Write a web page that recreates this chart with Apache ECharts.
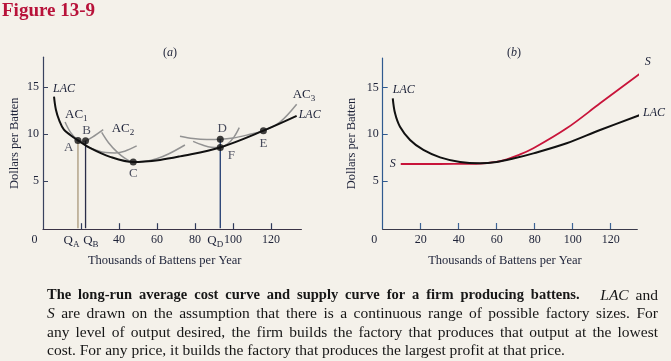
<!DOCTYPE html>
<html><head><meta charset="utf-8">
<script src="https://cdn.jsdelivr.net/npm/echarts@6/dist/echarts.min.js"></script>
<style>html,body{margin:0;padding:0;background:#f4f1ea;}#c{width:671px;height:361px;}</style>
</head><body><div id="c"></div>
<script>
// ---------- DATA ----------
// Panel (a): long-run average cost and short-run average cost curves (x: thousands of battens, y: dollars)
const lacA   = [[5.8,14.0],[6.8,12.6],[8.5,11.5],[11,10.5],[14.5,9.9],[18.4,9.35],[24.7,8.55],[35.3,7.6],[47.5,7.05],[61.6,7.27],[72.1,7.65],[93.2,8.6],[116,10.38],[133.5,11.95]];
const ac1A   = [[11.6,11.3],[14.5,10.2],[18.4,9.35],[20.4,9.22],[22.4,9.3],[26,9.7],[31.7,10.5]];
const acMidA = [[23,8.7],[28,8.3],[33,8.05],[38,8.02],[43,8.2],[49.3,8.76]];
const ac2A   = [[30.9,10.2],[34.5,9.1],[38.8,8.15],[43,7.45],[47.5,7.05],[53,7.1],[59.8,7.4],[66,7.9],[74.7,8.86]];
const acFA   = [[79,9.25],[84,8.85],[88.5,8.62],[93.3,8.6],[97,8.95],[100.5,9.7],[103.3,10.7]];
const ac3A   = [[72.1,9.8],[79,9.55],[86.2,9.45],[93.3,9.47],[100,9.6],[108,9.95],[116,10.38],[124.7,11.3],[133.5,13.2]];
const pointNames  = ['A','B','C','D','F','E'];
const pointCoords = [[18.4,9.35],[22.4,9.3],[47.5,7.05],[93.3,9.47],[93.3,8.6],[116,10.38]];
const qNames  = ['A','B','D'];          // vertical lines dropped from these points
// Panel (b): LAC and supply curve S
const lacB    = [[5.3,13.86],[6.5,12.25],[9.1,10.81],[14.4,9.39],[21.4,8.32],[30.2,7.53],[40.7,7.03],[51.2,6.89],[60,7.03],[68.7,7.4],[79.3,7.96],[96.8,9.04],[114.4,10.46],[135.4,12.07]];
const supplyB = [[9.5,6.82],[30,6.82],[45,6.83],[51.2,6.86],[61.7,7.12],[72.3,7.85],[79.3,8.5],[96.8,10.64],[114.4,13.32],[138.4,16.97]];
// Ticks / labels
const yTickVals   = [5,10,15];
const xTickValsA  = [20,40,60,80,100,120];
const xLabelValsA = [0,40,60,80,100,120];
const xTickValsB  = [20,40,60,80,100,120];
const xLabelValsB = [0,20,40,60,80,100,120];

// ---------- STYLE ----------
const SERIF = "'Liberation Serif', 'DejaVu Serif', serif";
const INK = '#1d2238';
const GRAY = '#939393';
const RED = '#c8143a';
const txt = (extra) => Object.assign({fontFamily:SERIF, fontSize:12, color:INK}, extra||{});
const richSub = {
  m:{fontFamily:SERIF, fontSize:13, color:INK},
  s:{fontFamily:SERIF, fontSize:9, color:INK, padding:[8,0,0,0]}
};

function curve(pts, color, width, gi, z, labels, extra) {
  labels = labels || {};
  const n = pts.length;
  return Object.assign({
    type:'line', xAxisIndex:gi, yAxisIndex:gi, smooth:0.35,
    symbol:'circle', symbolSize:0, showSymbol:true, showAllSymbol:true,
    lineStyle:{color, width}, itemStyle:{color}, z, silent:true, animation:false,
    data: pts.map((p,i) => {
      const l = labels[i] || (i===n-1 ? labels.last : null);
      return l ? {value:p, label:Object.assign({show:true}, l)} : p;
    })
  }, extra||{});
}
const ital = (t, extra) => Object.assign({formatter:t}, txt({fontStyle:'italic', fontSize:12}), extra);
const acLab = (k, extra) => Object.assign({formatter:'{m|AC}{s|'+k+'}', rich:richSub}, extra);

const pointLabelPos = {
  A:{position:'left', distance:1, offset:[0,7]},
  B:{position:'top', distance:0, offset:[1,0]},
  C:{position:'bottom', distance:2},
  D:{position:'top', distance:1, offset:[2,0]},
  F:{position:'right', distance:4, offset:[0,8]},
  E:{position:'bottom', distance:3}
};
const qColors = {A:'#a8977a', B:'#2a2d48', D:'#1f3a70'};
const qLabelOff = {A:-6.5, B:5.3, D:-5};

const series = [];
series.push(curve(ac1A, GRAY, 1.5, 0, 2, {0: acLab('1', {position:'right', distance:0, offset:[0,-7]})}));
series.push(curve(acMidA, GRAY, 1.5, 0, 2));
series.push(curve(ac2A, GRAY, 1.5, 0, 2, {0: acLab('2', {position:'right', distance:10, offset:[0,-4]})}));
series.push(curve(acFA, GRAY, 1.5, 0, 2));
series.push(curve(ac3A, GRAY, 1.5, 0, 2, {last: acLab('3', {position:'right', distance:0, offset:[-4,-10]})}));
series.push(curve(lacA, '#111', 2, 0, 4, {
  0: ital('LAC', {position:'right', distance:0, offset:[-1,-8]}),
  last: ital('LAC', {position:'right', distance:2, offset:[0,-1]})
}));
qNames.forEach(q => {
  const p = pointCoords[pointNames.indexOf(q)];
  series.push({
    type:'line', xAxisIndex:0, yAxisIndex:0, symbol:'circle', symbolSize:0, showSymbol:true,
    lineStyle:{color:qColors[q], width:1.3}, itemStyle:{color:qColors[q]}, z:3, silent:true, animation:false,
    data:[{value:[p[0],0], label:{show:true, position:'bottom', distance:4, offset:[qLabelOff[q],0],
           formatter:'{m|Q}{s|'+q+'}', rich:richSub}}, [p[0],p[1]]]
  });
});
series.push({
  type:'scatter', xAxisIndex:0, yAxisIndex:0, symbolSize:7, z:6, silent:true, animation:false,
  itemStyle:{color:'#111'},
  data: pointCoords.map((p,i) => ({value:p, label:Object.assign({show:true, formatter:pointNames[i]},
        txt({fontSize:13}), pointLabelPos[pointNames[i]])}))
});
series.push(curve(supplyB, RED, 1.8, 1, 3, {
  0: ital('S', {position:'left', distance:5, offset:[0,0]}),
  last: ital('S', {position:'top', distance:1, offset:[2,0]})
}, {clip:false}));
series.push(curve(lacB, '#111', 2, 1, 4, {
  0: ital('LAC', {position:'right', distance:0, offset:[0,-8]}),
  last: ital('LAC', {position:'right', distance:3, offset:[0,-2]})
}, {clip:false}));

function yAxis(gi, min, max, lineColor, nameGap) {
  return {gridIndex:gi, type:'value', min, max,
    axisLine:{show:true, onZero:false, lineStyle:{color:lineColor, width:1.2}},
    axisTick:{show:true, inside:true, length:5, customValues:yTickVals, lineStyle:{color:lineColor}},
    axisLabel:{customValues:yTickVals, margin:4, ...txt({fontSize:12})},
    splitLine:{show:false},
    name:'Dollars per Batten', nameLocation:'middle', nameGap, nameTextStyle:txt({fontSize:12.5})};
}
function xAxis(gi, max, tickVals, labelVals, lineColor, tickColor, namePadRight) {
  return {gridIndex:gi, type:'value', min:0, max,
    axisLine:{show:true, onZero:false, lineStyle:{color:lineColor, width:1.2}},
    axisTick:{show:true, inside:true, length:6, customValues:tickVals, lineStyle:{color:tickColor, width:1.2}},
    axisLabel:{customValues:labelVals, margin:5, ...txt({fontSize:12}),
      formatter:v => v===0 ? '{z|0}' : String(v), rich:{z:{fontFamily:SERIF, fontSize:12, color:INK, padding:[0,17,0,0]}}},
    splitLine:{show:false},
    name:'Thousands of Battens per Year', nameLocation:'middle', nameGap:25,
    nameTextStyle:txt({fontSize:12.5, padding:[0,namePadRight,0,0]})};
}

// ---------- CAPTION (justified like the book) ----------
const captionLines = [
  {segs:[['b','The long-run average cost curve and supply curve for a firm producing battens.'],['i','LAC'],['r','and']], justify:true, wideGapSeg:1},
  {segs:[['i','S'],['r','are drawn on the assumption that there is a continuous range of possible factory sizes. For']], justify:true},
  {segs:[['r','any level of output desired, the firm builds the factory that produces that output at the lowest']], justify:true},
  {segs:[['r','cost. For any price, it builds the factory that produces the largest profit at that price.']], justify:false}
];
const CAP_FONT = {b:'normal bold 14.5px "Liberation Serif"', i:'italic normal 15.5px "Liberation Serif"', r:'normal normal 15.5px "Liberation Serif"'};
const capLeft = 47, capRight = 658, capY = [295.5, 314, 332.5, 351];
const mctx = document.createElement('canvas').getContext('2d');
function mw(t, f){ mctx.font = f; return mctx.measureText(t).width; }
const graphics = [];
captionLines.forEach((line, li) => {
  const words = [];
  line.segs.forEach((sg, si) => sg[1].split(' ').forEach((w, wi) =>
    words.push({t:w, f:CAP_FONT[sg[0]], wgt:(wi===0 && si===line.wideGapSeg) ? 3 : 1})));
  words.forEach(w => w.w = mw(w.t, w.f));
  const total = words.reduce((a,w)=>a+w.w,0);
  const wsum = words.slice(1).reduce((a,w)=>a+w.wgt,0);
  const gap = line.justify ? (capRight-capLeft-total)/wsum : mw(' ', CAP_FONT.r);
  let x = capLeft;
  words.forEach((w, i) => {
    if (i>0) x += gap*w.wgt;
    graphics.push({type:'text', x, y:capY[li], silent:true,
      style:{text:w.t, font:w.f, fill:'#161616', verticalAlign:'middle', align:'left'}});
    x += w.w;
  });
});
graphics.push({type:'text', x:2, y:11.5, silent:true,
  style:{text:'Figure 13-9', font:'normal bold 19px "Liberation Serif"', fill:'#b8123a', verticalAlign:'middle'}});
[['a',170,52.5],['b',514,53]].forEach(([k,x,y]) => graphics.push({type:'text', x, y, silent:true,
  style:{text:'({i|'+k+'})', font:'normal normal 12px "Liberation Serif"', fill:INK, align:'center', verticalAlign:'middle',
         rich:{i:{fontStyle:'italic', fontFamily:SERIF, fontSize:12, fill:INK}}}}));

const option = {
  backgroundColor:'#f4f1ea',
  animation:false,
  grid:[
    {left:43, top:57.2, width:258.4, height:172},
    {left:382.7, top:58, width:254.6, height:171}
  ],
  xAxis:[
    xAxis(0, 136, xTickValsA, xLabelValsA, '#3a3346', '#2e3a5a', 15),
    xAxis(1, 134, xTickValsB, xLabelValsB, '#3a3a4a', '#3d6496', 10)
  ],
  yAxis:[
    yAxis(0, -0.1, 18.2, '#38425e', 22),
    yAxis(1, -0.15, 18.18, '#2f5a8f', 24)
  ],
  series,
  graphic:graphics
};
const chart = echarts.init(document.getElementById('c'), null, {renderer:'canvas'});
chart.setOption(option);
</script></body></html>
